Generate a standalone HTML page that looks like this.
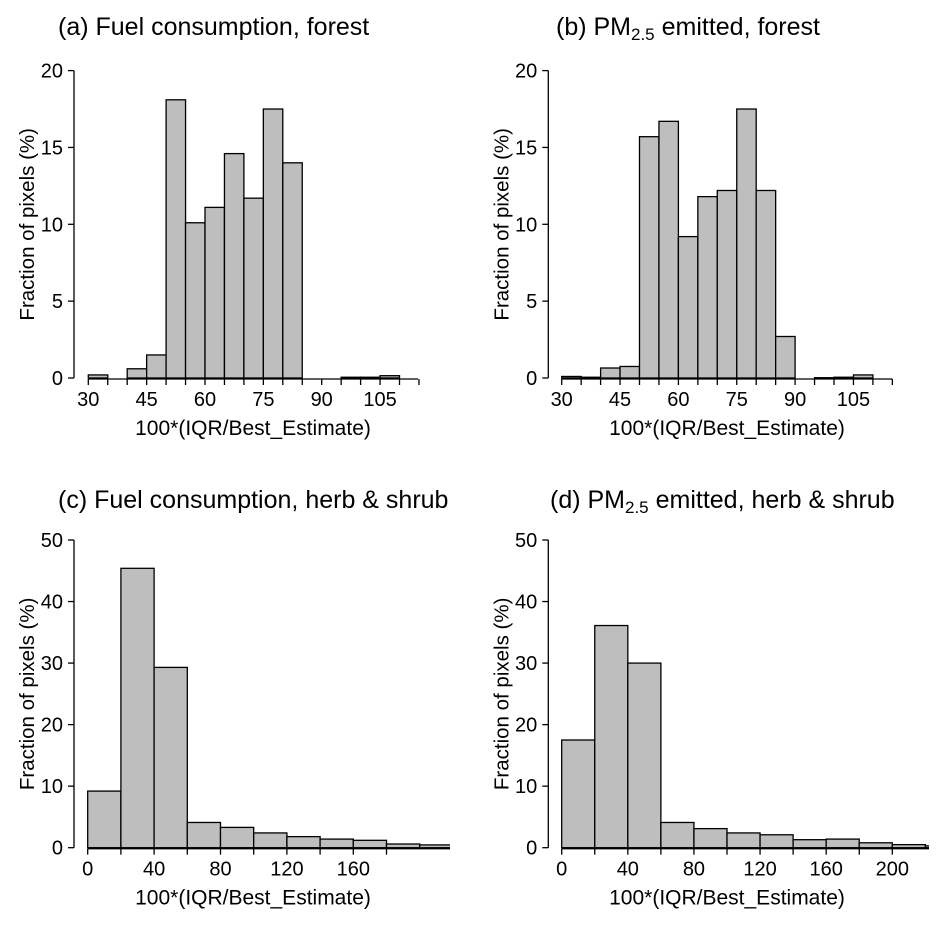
<!DOCTYPE html>
<html><head><meta charset="utf-8"><style>
html,body{margin:0;padding:0;background:#fff;}
svg{display:block;font-family:"Liberation Sans",Arial,sans-serif;}
</style></head><body>
<svg id="fig" width="948" height="927" viewBox="0 0 948 927" xmlns="http://www.w3.org/2000/svg"></svg>
<script>
// Panel (a) data
const aBinStarts = [30,35,40,45,50,55,60,65,70,75,80,85,90,95,100,105,110];
const aValues = [0.2,0,0.6,1.5,18.1,10.1,11.1,14.6,11.7,17.5,14.0,0,0,0.05,0.05,0.15,0];
// Panel (b) data
const bBinStarts = [30,35,40,45,50,55,60,65,70,75,80,85,90,95,100,105,110];
const bValues = [0.1,0.05,0.65,0.75,15.7,16.7,9.2,11.8,12.2,17.5,12.2,2.7,0,0.02,0.05,0.2,0];
// Panel (c) data
const cBinStarts = [0,20,40,60,80,100,120,140,160,180,200];
const cValues = [9.2,45.4,29.3,4.1,3.3,2.4,1.8,1.4,1.2,0.6,0.45];
// Panel (d) data
const dBinStarts = [0,20,40,60,80,100,120,140,160,180,200,220];
const dValues = [17.5,36.1,30.0,4.1,3.1,2.4,2.1,1.3,1.4,0.8,0.5,0.3];
// tick labels
const forestXLabels = [30,45,60,75,90,105];
const forestYLabels = [0,5,10,15,20];
const shrubYLabels = [0,10,20,30,40,50];
const cXLabels = [0,40,80,120,160];
const dXLabels = [0,40,80,120,160,200];

const NS="http://www.w3.org/2000/svg";
const svg=document.getElementById('fig');
function mk(tag,attrs,parent){const e=document.createElementNS(NS,tag);for(const k in attrs)e.setAttribute(k,attrs[k]);(parent||svg).appendChild(e);return e;}

function panel(cfg){
  const g=mk('g',{});
  
  
  const X=v=>cfg.x0+(v-cfg.xmin)*cfg.xs;
  const Y=v=>cfg.y0-(v)*cfg.ys;
  const clipId='clip-'+cfg.name;
  const cp=mk('clipPath',{id:clipId},g);
  mk('rect',{x:cfg.axX-2,y:0,width:cfg.clipR-cfg.axX+2,height:927},cp);
  const bars=mk('g',{'clip-path':'url(#'+clipId+')'},g);
  cfg.starts.forEach((s,i)=>{
    const r=mk('rect',{x:X(s),y:Y(cfg.vals[i]),width:X(s+cfg.bw)-X(s),height:Math.max(0,Y(0)-Y(cfg.vals[i])),fill:'#bebebe',stroke:'#000','stroke-width':1.3},bars);
    
    
  });
  const ya=mk('line',{x1:cfg.axX,y1:Y(cfg.ymax),x2:cfg.axX,y2:Y(0),stroke:'#000','stroke-width':1.3},g);
  
  
  cfg.yl.forEach(v=>{
    mk('line',{x1:cfg.axX-6,y1:Y(v),x2:cfg.axX,y2:Y(v),stroke:'#000','stroke-width':1.3},g);
    const t=mk('text',{x:cfg.axX-11,y:Y(v)+7,'text-anchor':'end','font-size':20},g);
    t.textContent=v;
    
    
  });
  const xa=mk('line',{x1:X(cfg.xmin),y1:cfg.y0+1,x2:cfg.axEnd,y2:cfg.y0+1,stroke:'#000','stroke-width':1.3},g);
  
  
  for(let v=cfg.xmin;v<=cfg.tickMax+0.001;v+=cfg.bw){
    mk('line',{x1:X(v),y1:cfg.y0+1,x2:X(v),y2:cfg.y0+7,stroke:'#000','stroke-width':1.3},g);
  }
  cfg.xl.forEach(v=>{
    const t=mk('text',{x:X(v),y:cfg.y0+28,'text-anchor':'middle','font-size':20},g);
    t.textContent=v;
    
    
  });
  const xt=mk('text',{x:cfg.xtX,y:cfg.y0+57,'text-anchor':'middle','font-size':21},g);
  xt.textContent='100*(IQR/Best_Estimate)';
  
  
  const cy=(Y(cfg.ymax)+Y(0))/2;
  const yt=mk('text',{x:0,y:0,'text-anchor':'middle','font-size':20.5,transform:'translate('+(cfg.axX-40)+','+cy+') rotate(-90)'},g);
  yt.textContent='Fraction of pixels (%)';
  
  
  const tt=mk('text',{x:cfg.titleX,y:cfg.titleY,'font-size':25},g);
  tt.innerHTML=cfg.title;
  
  
}
const sub='PM<tspan font-size="17" dy="5">2.5</tspan><tspan dy="-5"> emitted, ';
panel({name:'panel-a',starts:aBinStarts,vals:aValues,bw:5,xmin:30,x0:88.3,xs:3.89,y0:378,ys:15.37,ymax:20,axX:74,clipR:420,axEnd:418,tickMax:115,yl:forestYLabels,xl:forestXLabels,xtX:253,titleX:58,titleY:35,title:'(a) Fuel consumption, forest'});
panel({name:'panel-b',starts:bBinStarts,vals:bValues,bw:5,xmin:30,x0:561.7,xs:3.89,y0:378,ys:15.37,ymax:20,axX:548.3,clipR:895,axEnd:892.3,tickMax:115,yl:forestYLabels,xl:forestXLabels,xtX:727,titleX:556,titleY:35,title:'(b) '+sub+'forest</tspan>'});
panel({name:'panel-c',starts:cBinStarts,vals:cValues,bw:20,xmin:0,x0:87.7,xs:1.66,y0:847.7,ys:6.154,ymax:50,axX:74,clipR:450,axEnd:450,tickMax:180,yl:shrubYLabels,xl:cXLabels,xtX:253,titleX:58,titleY:508,title:'(c) Fuel consumption, herb &amp; shrub'});
panel({name:'panel-d',starts:dBinStarts,vals:dValues,bw:20,xmin:0,x0:561.7,xs:1.653,y0:847.7,ys:6.154,ymax:50,axX:548.3,clipR:929,axEnd:929,tickMax:200,yl:shrubYLabels,xl:dXLabels,xtX:727,titleX:550,titleY:508,title:'(d) '+sub+'herb &amp; shrub</tspan>'});
</script>
</body></html>
